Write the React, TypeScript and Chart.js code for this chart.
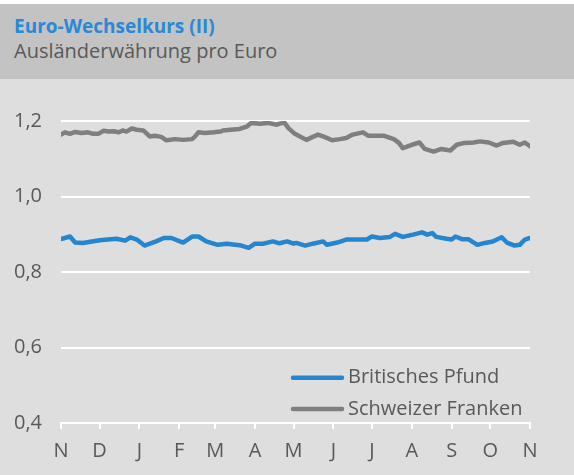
import React, { useEffect, useRef } from "react";
import { Chart, registerables } from "chart.js";

Chart.register(...registerables);

const monthLabels = ["N", "D", "J", "F", "M", "A", "M", "J", "J", "A", "S", "O", "N"];
const monthStartDays = [0, 30, 61, 92, 120, 151, 181, 212, 242, 273, 304, 334, 365];

const gbpDays = [0, 7, 11, 17, 30, 43, 50, 54, 59, 65, 74, 80, 86, 95, 102, 107, 113, 122, 129, 139, 146, 151, 157, 165, 170, 176, 181, 183, 190, 196, 204, 207, 215, 222, 230, 238, 242, 248, 256, 260, 266, 274, 281, 285, 289, 292, 300, 304, 307, 312, 317, 324, 330, 336, 343, 347, 353, 357, 361, 365];
const gbpValues = [0.887, 0.894, 0.878, 0.877, 0.884, 0.888, 0.883, 0.892, 0.886, 0.87, 0.881, 0.89, 0.89, 0.878, 0.894, 0.894, 0.881, 0.872, 0.875, 0.871, 0.864, 0.875, 0.875, 0.881, 0.876, 0.881, 0.875, 0.877, 0.87, 0.875, 0.881, 0.872, 0.878, 0.886, 0.886, 0.886, 0.894, 0.89, 0.893, 0.901, 0.893, 0.899, 0.905, 0.899, 0.903, 0.893, 0.888, 0.886, 0.894, 0.887, 0.887, 0.872, 0.877, 0.881, 0.892, 0.878, 0.87, 0.872, 0.886, 0.89];

const chfDays = [0, 3, 7, 11, 16, 21, 25, 29, 33, 37, 41, 45, 48, 51, 55, 59, 64, 69, 73, 78, 82, 89, 95, 102, 104, 107, 112, 119, 124, 126, 132, 139, 145, 148, 155, 161, 168, 170, 174, 177, 182, 186, 191, 196, 200, 205, 211, 217, 222, 227, 235, 239, 244, 251, 259, 263, 266, 273, 279, 283, 290, 296, 303, 308, 314, 321, 326, 333, 339, 344, 352, 357, 361, 365];
const chfValues = [1.164, 1.17, 1.166, 1.171, 1.168, 1.17, 1.166, 1.166, 1.174, 1.172, 1.173, 1.17, 1.175, 1.172, 1.18, 1.177, 1.175, 1.159, 1.161, 1.158, 1.149, 1.152, 1.15, 1.152, 1.158, 1.17, 1.168, 1.17, 1.172, 1.175, 1.177, 1.179, 1.186, 1.195, 1.193, 1.195, 1.19, 1.193, 1.195, 1.181, 1.166, 1.159, 1.15, 1.158, 1.164, 1.158, 1.149, 1.152, 1.155, 1.164, 1.17, 1.161, 1.161, 1.161, 1.152, 1.142, 1.128, 1.137, 1.143, 1.126, 1.119, 1.126, 1.122, 1.137, 1.142, 1.143, 1.146, 1.143, 1.135, 1.142, 1.145, 1.137, 1.143, 1.133];

const seriesNames = ["Britisches Pfund", "Schweizer Franken"];
const seriesColors = ["#2585cf", "#7f7f7f"];

const FONT = "'Open Sans', 'Noto Sans', sans-serif";
const TEXT = "#595959";

const legendPlugin = {
  id: "insideLegend",
  afterDraw(chart: any) {
    const ctx = chart.ctx;
    const rows = [298.7, 330];
    ctx.save();
    chart.data.datasets.forEach((ds: any, i: number) => {
      const y = rows[i];
      ctx.strokeStyle = ds.borderColor;
      ctx.lineWidth = 4.5;
      ctx.lineCap = "round";
      ctx.beginPath();
      ctx.moveTo(293, y);
      ctx.lineTo(342, y);
      ctx.stroke();
      ctx.fillStyle = TEXT;
      ctx.font = `20px ${FONT}`;
      ctx.textBaseline = "middle";
      ctx.textAlign = "left";
      ctx.fillText(ds.label, 348, y);
    });
    ctx.restore();
  },
};

export default function App() {
  const ref = useRef<HTMLCanvasElement>(null);
  useEffect(() => {
    if (!ref.current) return;
    const chart = new Chart(ref.current, {
      type: "line",
      data: {
        datasets: [
          {
            label: seriesNames[0],
            data: gbpDays.map((d, i) => ({ x: d, y: gbpValues[i] })),
            borderColor: seriesColors[0],
            borderWidth: 4.5,
            pointRadius: 0,
            tension: 0,
            borderJoinStyle: "round",
            borderCapStyle: "round",
          },
          {
            label: seriesNames[1],
            data: chfDays.map((d, i) => ({ x: d, y: chfValues[i] })),
            borderColor: seriesColors[1],
            borderWidth: 4.5,
            pointRadius: 0,
            tension: 0,
            borderJoinStyle: "round",
            borderCapStyle: "round",
          },
        ],
      },
      options: {
        animation: false,
        responsive: false,
        layout: { padding: { top: 42, right: 44, left: 0, bottom: 0 } },
        plugins: { legend: { display: false }, tooltip: { enabled: false }, title: { display: false } },
        scales: {
          x: {
            type: "linear",
            min: 0,
            max: 365,
            afterBuildTicks: (s: any) => {
              s.ticks = monthStartDays.map((v) => ({ value: v }));
            },
            afterFit: (s: any) => {
              s.height = 52;
            },
            ticks: {
              autoSkip: false,
              maxRotation: 0,
              color: TEXT,
              font: { family: FONT, size: 20 },
              padding: 10,
              callback: (_v: any, i: number) => monthLabels[i],
            },
            grid: { drawOnChartArea: false, drawTicks: true, tickLength: 6, color: "#ffffff", lineWidth: 2 },
            border: { display: true, color: "#ffffff", width: 2 },
          },
          y: {
            min: 0.4,
            max: 1.2,
            afterFit: (s: any) => {
              s.width = 61;
            },
            ticks: {
              stepSize: 0.2,
              color: TEXT,
              font: { family: FONT, size: 20 },
              padding: 19,
              callback: (v: any) => Number(v).toFixed(1).replace(".", ","),
            },
            grid: { color: "#ffffff", lineWidth: 2, drawTicks: false },
            border: { display: false },
          },
        },
      },
      plugins: [legendPlugin],
    });
    return () => chart.destroy();
  }, []);

  return (
    <div style={{ position: "absolute", left: 0, top: 0, width: 574, height: 475, background: "#dedede", overflow: "hidden" }}>
      <div style={{ position: "absolute", left: 0, top: 0, width: 574, height: 4, background: "#ffffff" }} />
      <div style={{ position: "absolute", left: 0, top: 4, width: 574, height: 75, background: "#c3c3c3" }} />
      <div style={{ position: "absolute", left: 14, top: 17.4, fontFamily: FONT, fontSize: 19, lineHeight: "19px", fontWeight: 700, color: "#2a88d6", whiteSpace: "nowrap" }}>
        Euro-Wechselkurs (II)
      </div>
      <div style={{ position: "absolute", left: 14, top: 40.5, fontFamily: FONT, fontSize: 20, lineHeight: "20px", color: TEXT, whiteSpace: "nowrap" }}>
        Ausländerwährung pro Euro
      </div>
      <canvas ref={ref} width={574} height={396} style={{ position: "absolute", left: 0, top: 79, width: 574, height: 396 }} />
    </div>
  );
}
